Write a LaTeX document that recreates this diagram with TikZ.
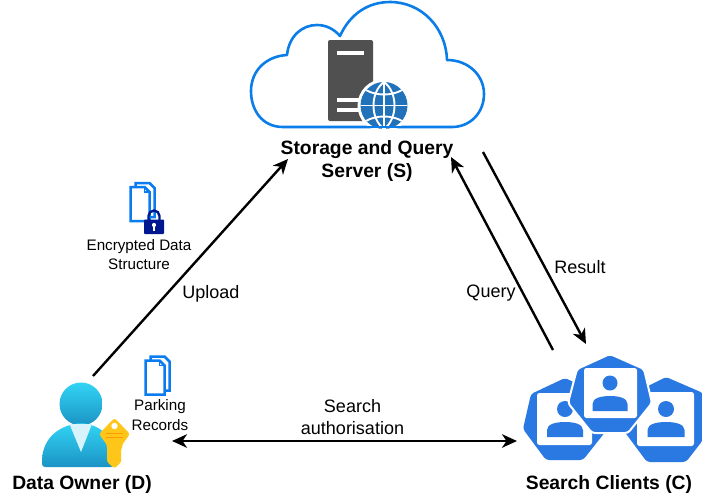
\documentclass[tikz,border=0pt]{standalone}
\usepackage{fontspec}
\setmainfont{Liberation Sans}
\usetikzlibrary{arrows.meta}
\definecolor{cloudblue}{HTML}{0A7DE8}
\definecolor{docblue}{HTML}{0A7CF0}
\definecolor{clientblue}{HTML}{2A78E2}
\definecolor{srv}{HTML}{505050}
\definecolor{globeblue}{HTML}{2272B9}
\definecolor{lockblue}{HTML}{00188F}
\definecolor{keygold}{HTML}{FFC61A}
\definecolor{ptop}{HTML}{32D4F5}
\definecolor{pbot}{HTML}{1B93C4}
\tikzset{
  tipstyle/.tip={Stealth[length=15pt,width=13.5pt,inset=4.5pt]},
  conn/.style={draw=black,line width=2.4pt,tipstyle-tipstyle},
  oneway/.style={draw=black,line width=2.4pt,-tipstyle},
  boldlabel/.style={font=\fontsize{19.3}{23}\selectfont\bfseries,align=center,inner sep=0pt},
  midlabel/.style={font=\fontsize{18}{22}\selectfont,align=center,inner sep=0pt},
  smalllabel/.style={font=\fontsize{15.2}{19.5}\selectfont,align=center,inner sep=0pt},
  docline/.style={draw=docblue,line width=2.5pt,fill=white,line join=miter},
  hept/.style={fill=clientblue,draw=white,line width=2pt,line join=round},
  card/.style={fill=white,rounded corners=2.5pt},
  partfill/.style={fill=clientblue},
  cloudline/.style={draw=cloudblue,line width=2.6pt,line join=round}
}
\newcommand{\docicon}[2]{%
  \begin{scope}[shift={(#1,#2)}]
    \draw[docline] (5,0) -- (19,0) -- (24,5) -- (24,34) -- (5,34) -- cycle;
    \draw[docline] (0,4) -- (14,4) -- (19,9) -- (19,38) -- (0,38) -- cycle;
    \draw[draw=docblue,line width=1.4pt] (14,4) -- (14,9) -- (19,9);
  \end{scope}}
\newcommand{\clientperson}[5]{% head x, head y, r, body half width, body top
  \fill[partfill] (#1,#2) circle (#3);
  \fill[partfill] (#1-#4,#5+15) -- (#1-#4,#5+8) .. controls (#1-#4,#5+2) and (#1-#4*0.5,#5) .. (#1,#5) .. controls (#1+#4*0.5,#5) and (#1+#4,#5+2) .. (#1+#4,#5+8) -- (#1+#4,#5+15) -- cycle;}
\begin{document}
\begin{tikzpicture}[x=1pt,y=-1pt]
\useasboundingbox (0,0) rectangle (702,499);
% cloud
\draw[cloudline,fill=white] (283,127)
  .. controls (262,127) and (251,110) .. (251,91)
  .. controls (251,70) and (267,56) .. (287,55)
  .. controls (289,36) and (302,25) .. (317,25)
  .. controls (326,25) and (334,29) .. (340,36)
  .. controls (350,14) and (368,2) .. (390,2)
  .. controls (422,2) and (446,28) .. (447,60)
  .. controls (468,60) and (484,75) .. (484,94)
  .. controls (484,113) and (470,127) .. (452,127) -- cycle;
% server
\fill[srv,rounded corners=2pt] (328,40) rectangle (373,121);
\fill[white] (337,51) rectangle (364,54.5);
\fill[white] (337,98) rectangle (362,102);
\fill[white] (337,108) rectangle (362,112);
% globe
\fill[white] (384,105.5) circle (26.5);
\begin{scope}
  \clip (384,105.5) circle (23.5);
  \fill[globeblue] (360,82) rectangle (408,129);
  \begin{scope}[draw=white,line width=1.9pt]
    \draw (384,80) -- (384,130);
    \draw (384,82) .. controls (370,92) and (370,119) .. (384,129);
    \draw (384,82) .. controls (398,92) and (398,119) .. (384,129);
    \draw (358,105.5) -- (410,105.5);
    \draw (366,90) .. controls (376,96) and (392,96) .. (402,90);
    \draw (366,121) .. controls (376,115) and (392,115) .. (402,121);
  \end{scope}
\end{scope}
\draw[cloudline] (283,127) -- (452,127);
% person
\shade[top color=ptop,bottom color=pbot] (81,404) circle (21.5);
\shade[top color=ptop,bottom color=pbot,rounded corners=3pt] (42,467) -- (42,458)
  .. controls (45,438) and (58,426) .. (81,423)
  .. controls (103,426) and (112,438) .. (114,458) -- (114,467) -- cycle;
\fill[cyan!15] (69.5,424) -- (92,424) -- (81,452) -- cycle;
% key
\fill[keygold,rounded corners=2.5pt] (114.5,418) -- (130,434) -- (122,445) -- (122,449) -- (120,452) -- (122,455) -- (120,458) -- (122,461) -- (114.5,468.5) -- (107,462) -- (107,445) -- (99,434) -- cycle;
\fill[white] (114.5,426) circle (3.2);
\draw[orange!80!yellow,line width=0.9pt] (106,433.5) -- (123,433.5) (106,437.5) -- (123,437.5);
% documents
\docicon{145.5}{356.5}
\docicon{130.5}{183}
% lock
\draw[lockblue,line width=2.4pt] (148.5,222) -- (148.5,216) arc[start angle=180,end angle=360,radius=5.5] -- (159.5,222);
\fill[lockblue,rounded corners=0.8pt] (144,219.5) rectangle (164,234);
\fill[white] (154,225) circle (2.1);
\fill[white] (153,225) rectangle (155,231);
% clients
\fill[clientblue,line join=round,rounded corners=3pt] (565,378) -- (531,394) -- (523,429) -- (546,460) -- (583,460) -- (606,431) -- (599,394) -- cycle;
\fill[clientblue,rounded corners=3pt] (666,377) -- (703,393) -- (703,440) -- (686,462) -- (647,462) -- (624,431) -- (632,394) -- cycle;
\fill[card] (537,393) rectangle (592,445);
\fill[card] (637,392) rectangle (694,446);
\clientperson{565}{409}{8}{18}{422}
\clientperson{666}{409}{8}{18.5}{422}
\draw[hept,rounded corners=3pt] (610,354) -- (644,369) -- (652,403) -- (628,433) -- (592,433) -- (568,403) -- (577,369) -- cycle;
\fill[card] (584,368) rectangle (637,418);
\clientperson{610}{383}{7.5}{17.5}{396}
% coordinates for connectors
\node[boldlabel] (server) at (367,161) {Storage and Query\\Server (S)};
\node[boldlabel] (owner) at (82,485) {Data Owner (D)};
\node[boldlabel] (clients) at (609,485) {Search Clients (C)};
\coordinate (upS) at (93,376);
\coordinate (upE) at (288,159);
\coordinate (qS) at (553,350);
\coordinate (qE) at (451,157);
\coordinate (rS) at (483,152);
\coordinate (rE) at (586,344);
\coordinate (saL) at (172,441);
\coordinate (saR) at (517,441);
\draw[oneway] (upS) -- (upE);
\draw[oneway] (qS) -- (qE);
\draw[oneway] (rS) -- (rE);
\draw[conn] (saL) -- (saR);
% labels
\node[midlabel] (lup) at (211,293.5) {Upload};
\node[midlabel] (lq) at (491,293) {Query};
\node[midlabel] (lr) at (580,267.5) {Result};
\node[midlabel] (lsa) at (352.5,417) {Search\\authorisation};
\node[smalllabel] (lenc) at (139,254.5) {Encrypted Data\\Structure};
\node[smalllabel] (lpark) at (160,415) {Parking\\Records};
\end{tikzpicture}
\end{document}
